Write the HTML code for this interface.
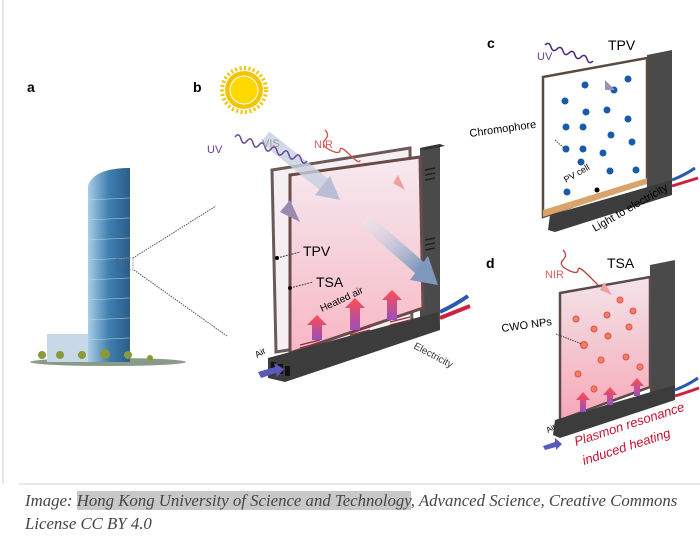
<!DOCTYPE html>
<html><head><meta charset="utf-8"><style>
html,body{margin:0;padding:0;background:#fff;width:700px;height:537px;overflow:hidden}
svg{position:absolute;left:0;top:0}
.cap{position:absolute;left:25px;top:489px;width:675px;font-family:"Liberation Serif",serif;font-style:italic;font-size:16.8px;line-height:23px;color:#444;white-space:nowrap}
.hl{background:#c8c8c8}
</style></head><body>
<svg width="700" height="537" viewBox="0 0 700 537" font-family="Liberation Sans, sans-serif">
<defs>
<linearGradient id="tw" x1="0" x2="1"><stop offset="0" stop-color="#a9cde6"/><stop offset=".5" stop-color="#3f7fb0"/><stop offset="1" stop-color="#2a5d8a"/></linearGradient>
<linearGradient id="pk" x1="0" y1="0" x2="0" y2="1"><stop offset="0" stop-color="#f6eaf0"/><stop offset="1" stop-color="#f7b7c4"/></linearGradient>
<linearGradient id="pk2" x1="0" y1="0" x2="0" y2="1"><stop offset="0" stop-color="#f3e4ea"/><stop offset="1" stop-color="#f6a8b6"/></linearGradient>
<linearGradient id="ar" x1="0" y1="1" x2="0" y2="0"><stop offset="0" stop-color="#9a4fc0"/><stop offset="1" stop-color="#ff4d4d"/></linearGradient>
<linearGradient id="bl" x1="0" y1="0" x2="1" y2="1"><stop offset="0" stop-color="#e8ecf4" stop-opacity=".3"/><stop offset="1" stop-color="#7f97bd"/></linearGradient>
</defs>
<line x1="3" y1="0" x2="3" y2="484" stroke="#e6e6e6" stroke-width="2"/>
<line x1="19" y1="484" x2="700" y2="484" stroke="#d8e3e6" stroke-width="1.5"/>
<text x="27" y="92" font-size="14" font-weight="bold">a</text>
<text x="193" y="92" font-size="14" font-weight="bold">b</text>
<text x="487" y="48" font-size="14" font-weight="bold">c</text>
<text x="486" y="268" font-size="14" font-weight="bold">d</text>
<ellipse cx="108" cy="362" rx="78" ry="4" fill="#8a9a88"/>
<rect x="47" y="334" width="47" height="28" fill="#c9d8e6"/>
<path d="M88 362 L88 185 Q95 168 130 168 L130 362Z" fill="url(#tw)"/>
<g stroke="#cfe4f2" stroke-width=".6" opacity=".7">
<line x1="88" y1="200" x2="130" y2="198"/><line x1="88" y1="220" x2="130" y2="218"/><line x1="88" y1="240" x2="130" y2="238"/><line x1="88" y1="260" x2="130" y2="258"/><line x1="88" y1="280" x2="130" y2="278"/><line x1="88" y1="300" x2="130" y2="298"/><line x1="88" y1="320" x2="130" y2="318"/><line x1="88" y1="340" x2="130" y2="338"/>
</g>
<g fill="#8a9a3a"><circle cx="42" cy="355" r="4"/><circle cx="60" cy="355" r="4"/><circle cx="82" cy="355" r="4"/><circle cx="105" cy="354" r="5"/><circle cx="128" cy="355" r="4"/><circle cx="150" cy="358" r="3"/></g>
<rect x="117" y="258" width="16" height="12" fill="none" stroke="#555" stroke-width=".6" stroke-dasharray="1.5,1"/>
<line x1="133" y1="258" x2="216" y2="206" stroke="#555" stroke-dasharray="1.5,1"/>
<line x1="134" y1="270" x2="227" y2="336" stroke="#555" stroke-dasharray="1.5,1"/>
<circle cx="244" cy="90" r="19" fill="#f5c400"/>
<circle cx="244" cy="90" r="14" fill="#ffd800" stroke="#fff" stroke-width="1"/>
<circle cx="244" cy="90" r="22" fill="none" stroke="#f5c400" stroke-width="4" stroke-dasharray="2,2.5"/>
<polygon points="420,148 440,144 440,330 420,335" fill="#4a4a4a"/>
<polygon points="420,148 440,144 445,146 425,150" fill="#333"/>
<polygon points="272,170 410,148 412,330 276,352" fill="#f5eef2" stroke="#6b5a5a" stroke-width="3"/>
<polygon points="290,175 420,157 423,308 290,353" fill="url(#pk)" stroke="#6b4a4a" stroke-width="3"/>
<polygon points="268,358 438,312 440,330 285,382 268,378" fill="#3c3c3c"/>
<g fill="#111"><rect x="271" y="362" width="5" height="10"/><rect x="278" y="364" width="5" height="10"/><rect x="285" y="366" width="5" height="10"/></g>
<g stroke="#8a2a3a" stroke-width="1.2"><line x1="300" y1="345" x2="320" y2="340"/><line x1="300" y1="348" x2="320" y2="343"/><line x1="350" y1="332" x2="370" y2="327"/><line x1="350" y1="335" x2="370" y2="330"/><line x1="390" y1="322" x2="410" y2="317"/><line x1="390" y1="325" x2="410" y2="320"/></g>
<g stroke="#222" stroke-width="1.5"><line x1="425" y1="170" x2="435" y2="168"/><line x1="425" y1="175" x2="435" y2="173"/><line x1="425" y1="180" x2="435" y2="178"/><line x1="425" y1="240" x2="435" y2="238"/><line x1="425" y1="245" x2="435" y2="243"/><line x1="425" y1="250" x2="435" y2="248"/></g>
<path d="M440 312 Q455 305 468 296" stroke="#2a5ab0" stroke-width="4" fill="none"/>
<path d="M440 318 Q455 312 470 306" stroke="#d02040" stroke-width="4" fill="none"/>
<path d="M265 137 L325 185" stroke="#c8d0e0" stroke-width="14" opacity=".8"/>
<polygon points="315,195 340,200 330,176" fill="#b8bfd4"/>
<path d="M365 220 L420 268" stroke="url(#bl)" stroke-width="14"/>
<polygon points="410,280 438,285 428,256" fill="#8098bd"/>
<path d="M235 137 q4 -5 6 2 t6 2 t6 2 t6 2 t6 2 t6 2 t6 2 t6 2 t6 2 t6 2 t6 2 t6 2" stroke="#6a4a9a" stroke-width="1.5" fill="none"/>
<polygon points="280,212 300,222 290,200" fill="#9a8ab0"/>
<path d="M325 130 q5 5 0 10 t5 10 t10 0 t10 5 t10 5" stroke="#d05050" stroke-width="1.3" fill="none"/>
<polygon points="393,183 405,190 398,175" fill="#f0a0a0"/>
<text x="207" y="153" font-size="11" fill="#6a3a9a">UV</text>
<text x="262" y="147" font-size="11" fill="#999">VIS</text>
<text x="314" y="148" font-size="11" fill="#d06060">NIR</text>
<text x="303" y="256" font-size="14">TPV</text>
<text x="316" y="287" font-size="14">TSA</text>
<line x1="277" y1="258" x2="300" y2="252" stroke="#444" stroke-dasharray="2,1"/><circle cx="277" cy="258" r="2"/>
<line x1="290" y1="288" x2="313" y2="282" stroke="#444" stroke-dasharray="2,1"/><circle cx="290" cy="288" r="2"/>
<g fill="url(#ar)"><polygon points="312,340 312,325 307,325 317,315 327,325 322,325 322,340"/><polygon points="350,330 350,308 345,308 355,298 365,308 360,308 360,330"/><polygon points="387,320 387,300 382,300 392,290 402,300 397,300 397,320"/></g>
<text x="322" y="312" font-size="10" transform="rotate(-25 322 312)">Heated air</text>
<text x="413" y="348" font-size="10" fill="#333" transform="rotate(28 413 348)">Electricity</text>
<text x="257" y="358" font-size="9" transform="rotate(-30 257 358)">Air</text>
<polygon points="258,372 275,367 274,363 284,369 277,377 276,373 261,378" fill="#5a5ab8"/>
<polygon points="647,55 672,50 672,185 647,190" fill="#4a4a4a"/>
<polygon points="543,77 647,58 647,180 543,217" fill="#fff" stroke="#5a4a40" stroke-width="2.5"/>
<polygon points="543,210 647,178 647,184 543,217" fill="#d9a46a"/>
<polygon points="550,215 672,180 672,195 555,232 548,230" fill="#3c3c3c"/>
<g fill="#1a5aa8"><circle cx="565" cy="101" r="3.5"/><circle cx="585" cy="85" r="3.5"/><circle cx="614" cy="90" r="3.5"/><circle cx="628" cy="79" r="3.5"/><circle cx="586" cy="112" r="3.5"/><circle cx="607" cy="110" r="3.5"/><circle cx="628" cy="119" r="3.5"/><circle cx="566" cy="127" r="3.5"/><circle cx="583" cy="127" r="3.5"/><circle cx="611" cy="135" r="3.5"/><circle cx="632" cy="142" r="3.5"/><circle cx="566" cy="149" r="3.5"/><circle cx="583" cy="149" r="3.5"/><circle cx="603" cy="153" r="3.5"/><circle cx="581" cy="162" r="3.5"/><circle cx="610" cy="171" r="3.5"/><circle cx="636" cy="170" r="3.5"/><circle cx="567" cy="192" r="3.5"/></g>
<circle cx="597" cy="190" r="2.5" fill="#000"/>
<path d="M545 45 q4 -4 6 2 t6 2 t6 2 t6 2 t6 2 t6 2 t6 2 t6 2" stroke="#4a2a7a" stroke-width="1.5" fill="none"/>
<polygon points="605,90 615,90 605,80" fill="#9a90b8"/>
<text x="537" y="60" font-size="11" fill="#6a3a9a">UV</text>
<text x="608" y="50" font-size="14">TPV</text>
<text x="470" y="137" font-size="11" transform="rotate(-8 470 137)">Chromophore</text>
<line x1="555" y1="140" x2="564" y2="148" stroke="#444" stroke-dasharray="1.5,1"/>
<text x="566" y="183" font-size="9" transform="rotate(-30 566 183)">PV cell</text>
<text x="595" y="232" font-size="11" transform="rotate(-30 595 232)">Light to electricity</text>
<path d="M672 180 Q685 175 695 168" stroke="#2a5ab0" stroke-width="3" fill="none"/><path d="M672 186 Q685 182 698 178" stroke="#d02040" stroke-width="3" fill="none"/>
<polygon points="650,265 675,260 675,395 650,400" fill="#4a4a4a"/>
<polygon points="560,293 650,277 650,387 560,420" fill="url(#pk2)" stroke="#5a4a4a" stroke-width="2.5"/>
<polygon points="555,420 675,385 675,400 560,438 553,435" fill="#3c3c3c"/>
<g fill="#f08060" stroke="#e05050" stroke-width="1"><circle cx="620" cy="300" r="3"/><circle cx="607" cy="315" r="3"/><circle cx="633" cy="311" r="3"/><circle cx="576" cy="319" r="3"/><circle cx="594" cy="329" r="3"/><circle cx="629" cy="327" r="3"/><circle cx="584" cy="345" r="3.5"/><circle cx="608" cy="336" r="3"/><circle cx="601" cy="360" r="3"/><circle cx="626" cy="357" r="3"/><circle cx="640" cy="367" r="3"/><circle cx="578" cy="374" r="3"/><circle cx="594" cy="389" r="3"/></g>
<g fill="url(#ar)"><polygon points="580,412 580,400 576,400 583,392 590,400 586,400 586,412"/><polygon points="607,405 607,395 603,395 610,387 617,395 613,395 613,405"/><polygon points="634,396 634,386 630,386 637,378 644,386 640,386 640,396"/></g>
<path d="M563 250 q5 5 0 10 t5 10 t10 0 t10 5 t10 10" stroke="#c04040" stroke-width="1.3" fill="none"/>
<polygon points="600,290 612,295 604,282" fill="#f0a0a0"/>
<text x="545" y="278" font-size="11" fill="#e06060">NIR</text>
<text x="607" y="268" font-size="14">TSA</text>
<text x="502" y="332" font-size="11" transform="rotate(-8 502 332)">CWO NPs</text>
<line x1="556" y1="334" x2="582" y2="344" stroke="#444" stroke-dasharray="1.5,1"/>
<text x="548" y="433" font-size="8" transform="rotate(-30 548 433)">Air</text>
<polygon points="543,446 555,442 555,438 562,444 556,450 556,447 545,450" fill="#5a5ab8"/>
<text x="576" y="446" font-size="13" fill="#c8102e" font-style="italic" transform="rotate(-18 576 446)">Plasmon resonance</text>
<text x="584" y="465" font-size="13" fill="#c8102e" font-style="italic" transform="rotate(-18 584 465)">induced heating</text>
<path d="M675 390 Q688 385 698 378" stroke="#2a5ab0" stroke-width="3" fill="none"/><path d="M675 396 Q688 392 699 388" stroke="#d02040" stroke-width="3" fill="none"/>
</svg>
<div class="cap">Image: <span class="hl">Hong Kong University of Science and Technology</span>, Advanced Science, Creative Commons<br>License CC BY 4.0</div>
</body></html>
